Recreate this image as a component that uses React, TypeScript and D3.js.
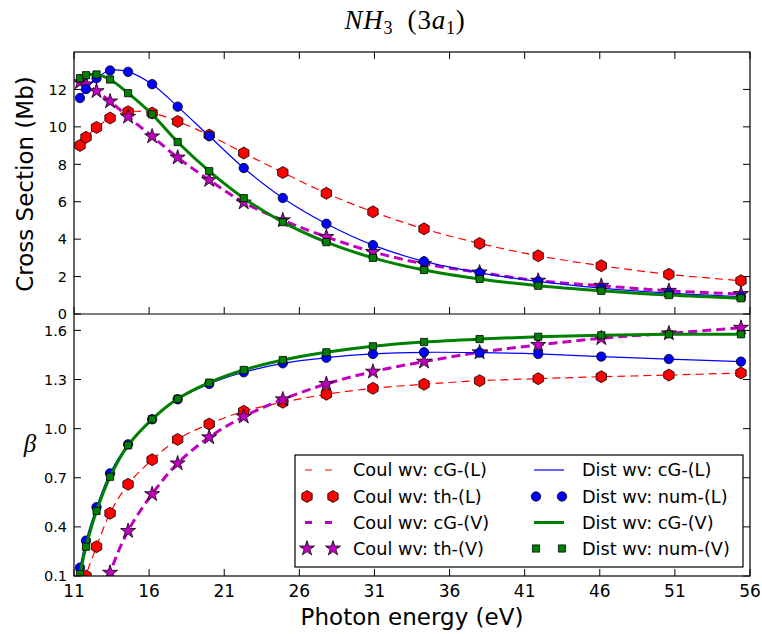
import React from "react";
import * as d3 from "d3";

const energies = [11.4, 11.8, 12.5, 13.4, 14.6, 16.2, 17.9, 20.0, 22.3, 24.9, 27.8, 30.9, 34.3, 38.0, 41.9, 46.1, 50.6, 55.4];

// Cross sections (Mb)
const csCoulThL = [9.01, 9.44, 9.97, 10.47, 10.81, 10.74, 10.29, 9.56, 8.6, 7.56, 6.45, 5.46, 4.55, 3.77, 3.11, 2.58, 2.12, 1.78];
const csCoulThV = [12.39, 12.27, 11.91, 11.36, 10.54, 9.49, 8.36, 7.16, 5.96, 5.01, 4.12, 3.32, 2.68, 2.22, 1.78, 1.51, 1.24, 1.07];
const csDistNumL = [11.54, 12.02, 12.6, 13.01, 12.94, 12.28, 11.08, 9.51, 7.8, 6.2, 4.82, 3.68, 2.81, 2.2, 1.74, 1.38, 1.12, 0.93];
const csDistNumV = [12.6, 12.76, 12.8, 12.53, 11.8, 10.67, 9.19, 7.63, 6.19, 4.91, 3.84, 3.0, 2.35, 1.87, 1.51, 1.24, 1.01, 0.84];

// Asymmetry parameter beta
const betaCoulThL = [-0.1, 0.1, 0.279, 0.483, 0.66, 0.81, 0.934, 1.028, 1.106, 1.161, 1.21, 1.246, 1.271, 1.293, 1.305, 1.317, 1.327, 1.34];
const betaCoulThV = [-0.75, -0.45, -0.15, 0.12, 0.375, 0.6, 0.788, 0.947, 1.073, 1.179, 1.273, 1.348, 1.409, 1.466, 1.511, 1.552, 1.582, 1.616];
const betaDistNumL = [0.151, 0.316, 0.52, 0.727, 0.904, 1.057, 1.179, 1.273, 1.344, 1.399, 1.433, 1.456, 1.466, 1.464, 1.456, 1.44, 1.425, 1.409];
const betaDistNumV = [0.112, 0.279, 0.497, 0.706, 0.898, 1.057, 1.182, 1.281, 1.358, 1.419, 1.466, 1.503, 1.529, 1.547, 1.561, 1.57, 1.576, 1.576];

const xTicks = [11, 16, 21, 26, 31, 36, 41, 46, 51, 56];
const csTicks = [0, 2, 4, 6, 8, 10, 12];
const betaTicks = [0.1, 0.4, 0.7, 1.0, 1.3, 1.6];

const legendLabels = [
  "Coul wv: cG-(L)", "Coul wv: th-(L)", "Coul wv: cG-(V)", "Coul wv: th-(V)",
  "Dist wv: cG-(L)", "Dist wv: num-(L)", "Dist wv: cG-(V)", "Dist wv: num-(V)",
];

const RED = "#ff0000";
const BLUE = "#0000ff";
const GREEN = "#008000";
const MAG = "#bf00bf";
const FONT = "DejaVu Sans, sans-serif";

const L = 74, R = 750, T = 52, M = 314, B = 576;
const x = d3.scaleLinear().domain([11, 56]).range([L, R]);
const yTop = d3.scaleLinear().domain([0, 14]).range([M, T]);
const yBot = d3.scaleLinear().domain([0.1, 1.7]).range([B, M]);

function hexPath(r: number) {
  const pts = d3.range(6).map((i) => {
    const a = -Math.PI / 2 + (i * Math.PI) / 3;
    return [r * Math.cos(a), r * Math.sin(a)];
  });
  return "M" + pts.map((p) => p.join(",")).join("L") + "Z";
}
const HEX = hexPath(6);
const STAR = d3.symbol(d3.symbolStar, 70)() as string;
const SQUARE = "M-3.6,-3.6H3.6V3.6H-3.6Z";

type Kind = "hex" | "circle" | "square" | "star";
function Marker({ kind, cx, cy, fill }: { kind: Kind; cx: number; cy: number; fill: string }) {
  if (kind === "circle") return <circle cx={cx} cy={cy} r={4.7} fill={fill} stroke="#000" strokeWidth={0.8} />;
  const d = kind === "hex" ? HEX : kind === "square" ? SQUARE : STAR;
  return <path d={d} transform={`translate(${cx},${cy})`} fill={fill} stroke="#000" strokeWidth={0.8} />;
}

function Panel({ y, th, thV, numL, numV, clipId, top, bottom }: any) {
  const line = d3.line<number>().x((_, i) => x(energies[i])).y((v) => y(v)).curve(d3.curveCatmullRom.alpha(0.5));
  return (
    <g>
      <defs>
        <clipPath id={clipId}>
          <rect x={L} y={top} width={R - L} height={bottom - top} />
        </clipPath>
      </defs>
      <g clipPath={`url(#${clipId})`}>
        <path d={line(th) as string} fill="none" stroke={RED} strokeWidth={1.2} strokeDasharray="8,5" />
        {th.map((v: number, i: number) => <Marker key={"a" + i} kind="hex" cx={x(energies[i])} cy={y(v)} fill={RED} />)}
        <path d={line(thV) as string} fill="none" stroke={MAG} strokeWidth={3} strokeDasharray="9,5" />
        {thV.map((v: number, i: number) => <Marker key={"b" + i} kind="star" cx={x(energies[i])} cy={y(v)} fill={MAG} />)}
        <path d={line(numL) as string} fill="none" stroke={BLUE} strokeWidth={1.2} />
        {numL.map((v: number, i: number) => <Marker key={"c" + i} kind="circle" cx={x(energies[i])} cy={y(v)} fill={BLUE} />)}
        <path d={line(numV) as string} fill="none" stroke={GREEN} strokeWidth={3} />
        {numV.map((v: number, i: number) => <Marker key={"d" + i} kind="square" cx={x(energies[i])} cy={y(v)} fill={GREEN} />)}
      </g>
    </g>
  );
}

export default function App() {
  const tl = 7;
  const legX = 295, legY = 455, legW = 448, legH = 112;
  const rows = [470, 496.5, 522.5, 548.5];
  const col = [{ h0: 307, h1: 333, tx: 353 }, { h0: 536, h1: 562, tx: 582 }];
  const legItems: { kind: "line" | Kind; color: string; width?: number; dash?: string }[] = [
    { kind: "line", color: RED, width: 1.2, dash: "7,13" },
    { kind: "hex", color: RED },
    { kind: "line", color: MAG, width: 3, dash: "7,13" },
    { kind: "star", color: MAG },
    { kind: "line", color: BLUE, width: 1.2 },
    { kind: "circle", color: BLUE },
    { kind: "line", color: GREEN, width: 3 },
    { kind: "square", color: GREEN },
  ];
  return (
    <svg width={762} height={634} style={{ display: "block", position: "absolute", left: 0, top: 0 }}>
      <rect x={0} y={0} width={762} height={634} fill="#fff" />
      <Panel y={yTop} th={csCoulThL} thV={csCoulThV} numL={csDistNumL} numV={csDistNumV} clipId="clipTop" top={T} bottom={M} />
      <Panel y={yBot} th={betaCoulThL} thV={betaCoulThV} numL={betaDistNumL} numV={betaDistNumV} clipId="clipBot" top={M} bottom={B} />

      {/* frames */}
      <rect x={L} y={T} width={R - L} height={B - T} fill="none" stroke="#000" strokeWidth={1.2} />
      <line x1={L} x2={R} y1={M} y2={M} stroke="#000" strokeWidth={1.2} />

      {/* x ticks */}
      {xTicks.map((t) => (
        <g key={"xt" + t}>
          <line x1={x(t)} x2={x(t)} y1={T} y2={T + tl} stroke="#000" />
          <line x1={x(t)} x2={x(t)} y1={M} y2={M - tl} stroke="#000" />
          <line x1={x(t)} x2={x(t)} y1={B} y2={B - tl} stroke="#000" />
          <text x={x(t)} y={597} textAnchor="middle" fontFamily={FONT} fontSize={17}>{t}</text>
        </g>
      ))}
      {csTicks.map((t) => (
        <g key={"ct" + t}>
          <line x1={L} x2={L + tl} y1={yTop(t)} y2={yTop(t)} stroke="#000" />
          <line x1={R} x2={R - tl} y1={yTop(t)} y2={yTop(t)} stroke="#000" />
          <text x={67} y={yTop(t) + 5.3} textAnchor="end" fontFamily={FONT} fontSize={14.5}>{t}</text>
        </g>
      ))}
      {betaTicks.map((t) => (
        <g key={"bt" + t}>
          <line x1={L} x2={L + tl} y1={yBot(t)} y2={yBot(t)} stroke="#000" />
          <line x1={R} x2={R - tl} y1={yBot(t)} y2={yBot(t)} stroke="#000" />
          <text x={67} y={yBot(t) + 5.3} textAnchor="end" fontFamily={FONT} fontSize={14.5}>{t.toFixed(1)}</text>
        </g>
      ))}

      {/* labels */}
      <text x={412} y={625} textAnchor="middle" fontFamily={FONT} fontSize={23}>Photon energy (eV)</text>
      <text transform={`translate(33,${184}) rotate(-90)`} textAnchor="middle" fontFamily={FONT} fontSize={23}>Cross Section (Mb)</text>
      <text x={30} y={452} textAnchor="middle" fontFamily="Liberation Serif, serif" fontStyle="italic" fontSize={25}>β</text>
      <text x={405} y={29} textAnchor="middle" fontFamily="Liberation Serif, serif" fontSize={27} letterSpacing={0.8}>
        <tspan fontStyle="italic">NH</tspan>
        <tspan fontSize={18} dy={5}>3</tspan>
        <tspan dy={-5}>{"\u2002(3"}</tspan>
        <tspan fontStyle="italic">a</tspan>
        <tspan fontSize={18} dy={5}>1</tspan>
        <tspan dy={-5}>)</tspan>
      </text>

      {/* legend */}
      <rect x={legX} y={legY} width={legW} height={legH} fill="#fff" stroke="#000" strokeWidth={1.2} />
      {legItems.map((it, i) => {
        const c = col[Math.floor(i / 4)];
        const yy = rows[i % 4];
        return (
          <g key={"lg" + i}>
            {it.kind === "line" ? (
              <line x1={c.h0 - 2} x2={c.h1 + 2} y1={yy} y2={yy} stroke={it.color} strokeWidth={it.width} strokeDasharray={it.dash} />
            ) : (
              <>
                <Marker kind={it.kind} cx={c.h0} cy={yy} fill={it.color} />
                <Marker kind={it.kind} cx={c.h1} cy={yy} fill={it.color} />
              </>
            )}
            <text x={c.tx} y={yy + 6.3} fontFamily={FONT} fontSize={17.7}>{legendLabels[i]}</text>
          </g>
        );
      })}
    </svg>
  );
}
